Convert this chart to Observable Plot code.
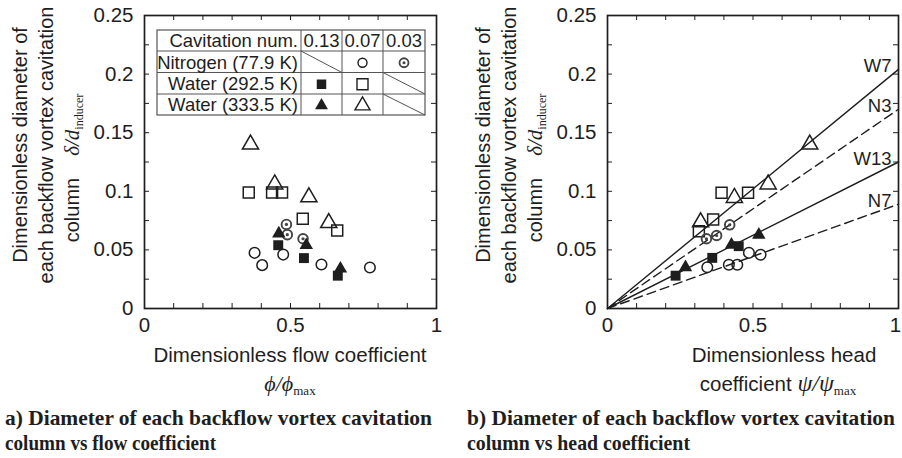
<!DOCTYPE html>
<html><head><meta charset="utf-8">
<script src="https://cdn.jsdelivr.net/npm/d3@7"></script>
<script src="https://cdn.jsdelivr.net/npm/@observablehq/plot@0.6"></script>
<style>
html,body{margin:0;padding:0;background:#fff;}
#wrap{position:relative;width:902px;height:458px;overflow:hidden;background:#fff;}
#wrap > svg{position:absolute;overflow:visible;}
#wrap svg.panel g[aria-label*="axis"] text{font-size:20.5px;font-family:'Liberation Sans', Arial, sans-serif;fill:#1e1e1e;}
</style></head><body><div id="wrap"></div>
<script>
// ---------- data ----------
// panel a: x = phi/phi_max, y = delta/d_inducer
const flowN2_007  = [[0.377,0.0475],[0.403,0.037],[0.475,0.046],[0.606,0.0375],[0.772,0.035]];
const flowN2_003  = [[0.486,0.0717],[0.489,0.063],[0.543,0.0595]];
const flowW292_013 = [[0.458,0.054],[0.546,0.043],[0.662,0.028]];
const flowW292_007 = [[0.357,0.099],[0.437,0.099],[0.471,0.099],[0.542,0.0765],[0.660,0.0665]];
const flowW333_013 = [[0.460,0.064],[0.554,0.054],[0.671,0.034]];
const flowW333_007 = [[0.363,0.140],[0.446,0.106],[0.563,0.095],[0.631,0.073]];
// panel b: x = psi/psi_max
const headN2_007  = [[0.343,0.0352],[0.417,0.0373],[0.446,0.0373],[0.486,0.0475],[0.526,0.0458]];
const headN2_003  = [[0.340,0.0595],[0.375,0.0623],[0.420,0.0714]];
const headW292_013 = [[0.234,0.028],[0.360,0.0432],[0.451,0.0532]];
const headW292_007 = [[0.392,0.0987],[0.483,0.0987],[0.363,0.076],[0.314,0.066]];
const headW333_013 = [[0.268,0.0352],[0.426,0.0543],[0.520,0.0629]];
const headW333_007 = [[0.695,0.140],[0.552,0.106],[0.436,0.0945],[0.320,0.0737]];
// fitted lines through origin
const lineNames  = ["W7","N3","W13","N7"];
const lineSlopes = [0.204,0.170,0.125,0.089];
const lineDashed = [false,true,false,true];
// ticks
const xTicks = [0,0.5,1];
const xTickLabels = ["0","0.5","1"];
const yTicks = [0,0.05,0.1,0.15,0.2,0.25];
const yTickLabels = ["0","0.05","0.1","0.15","0.2","0.25"];
const xMinor = [0.1,0.2,0.3,0.4,0.5,0.6,0.7,0.8,0.9];
const yMinor = [0.025,0.05,0.075,0.1,0.125,0.15,0.175,0.2,0.225];
// legend table
const legendHeader = ["Cavitation num.","0.13","0.07","0.03"];
const legendRows = ["Nitrogen (77.9 K)","Water (292.5 K)","Water (333.5 K)"];

// ---------- drawing ----------
const SANS = "'Liberation Sans', Arial, Helvetica, sans-serif";
const SERIF = "'Liberation Serif', 'Times New Roman', Times, serif";
const INK = "#1e1e1e";
const W = 451, H = 340, MT = 15, MB = 32;
const PH = H - MT - MB;

function symbolMarks(sets) {
  const sx = d => d[0], sy = d => d[1];
  return [
    Plot.dot(sets.w292_007, {x: sx, y: sy, symbol: "square", r: 6.2, fill: "none", stroke: INK, strokeWidth: 1.5}),
    Plot.dot(sets.w333_007, {x: sx, y: sy, symbol: "triangle", r: 6, fill: "none", stroke: INK, strokeWidth: 1.5}),
    Plot.dot(sets.n2_007, {x: sx, y: sy, symbol: "circle", r: 5.3, fill: "none", stroke: INK, strokeWidth: 1.5}),
    Plot.dot(sets.n2_003, {x: sx, y: sy, symbol: "circle", r: 4.8, fill: "none", stroke: "#444", strokeWidth: 1.9}),
    Plot.dot(sets.n2_003, {x: sx, y: sy, symbol: "circle", r: 1.6, fill: "#444", stroke: "none"}),
    Plot.dot(sets.w292_013, {x: sx, y: sy, symbol: "square", r: 5.6, fill: INK, stroke: "none"}),
    Plot.dot(sets.w333_013, {x: sx, y: sy, symbol: "triangle", r: 5, fill: INK, stroke: "none"})
  ];
}

function panel(marginLeft, marginRight, extra, sets) {
  const PW = W - marginLeft - marginRight;
  const svg = Plot.plot({
    width: W, height: H,
    marginLeft, marginRight, marginTop: MT, marginBottom: MB,
    style: {fontFamily: SANS, fontSize: "20px", color: INK, background: "transparent", overflow: "visible"},
    x: {domain: [0,1], ticks: xTicks, tickFormat: d => xTickLabels[xTicks.indexOf(d)], tickSize: 0, tickPadding: 9, label: null},
    y: {domain: [0,0.25], ticks: yTicks, tickFormat: d => yTickLabels[yTicks.indexOf(d)], tickSize: 0, tickPadding: 11, label: null},
    marks: [
      Plot.ruleX(xMinor, {x: d => d, insetTop: PH - 5, stroke: INK, strokeWidth: 1}),
      Plot.ruleX(xMinor, {x: d => d, insetBottom: PH - 5, stroke: INK, strokeWidth: 1}),
      Plot.ruleY(yMinor, {y: d => d, insetRight: PW - 5, stroke: INK, strokeWidth: 1}),
      Plot.ruleY(yMinor, {y: d => d, insetLeft: PW - 5, stroke: INK, strokeWidth: 1}),
      ...extra,
      ...symbolMarks(sets),
      Plot.frame({stroke: INK, strokeWidth: 1.7})
    ]
  });
  svg.classList.add("panel");
  return svg;
}

const wrap = document.getElementById("wrap");

const left = panel(144, 15, [], {
  n2_007: flowN2_007, n2_003: flowN2_003, w292_013: flowW292_013,
  w292_007: flowW292_007, w333_013: flowW333_013, w333_007: flowW333_007
});
left.style.left = "0px"; left.style.top = "0px";
wrap.appendChild(left);

const lineRows = lineNames.flatMap((n, i) => [
  {name: n, x: 0, y: 0, dashed: lineDashed[i]},
  {name: n, x: 1, y: lineSlopes[i], dashed: lineDashed[i]}
]);
const lineEnds = lineRows.filter(d => d.x === 1);
const right = panel(156, 4, [
  Plot.line(lineRows.filter(d => !d.dashed), {x: "x", y: "y", z: "name", stroke: INK, strokeWidth: 1.4}),
  Plot.line(lineRows.filter(d => d.dashed), {x: "x", y: "y", z: "name", stroke: INK, strokeWidth: 1.4, strokeDasharray: "9,5"}),
  Plot.text(lineEnds, {x: "x", y: "y", text: "name", textAnchor: "end", dx: -7, dy: -3, fontSize: 18.5, fill: INK})
], {
  n2_007: headN2_007, n2_003: headN2_003, w292_013: headW292_013,
  w292_007: headW292_007, w333_013: headW333_013, w333_007: headW333_007
});
right.style.left = "451px"; right.style.top = "0px";
wrap.appendChild(right);
// keep the "1" tick label of the right panel inside the page
{
  const lbls = Array.from(right.querySelectorAll('g[aria-label*="x-axis"] text')).filter(t => t.textContent === "1");
  lbls.forEach(t => t.setAttribute("dx", "-3"));
}

// ---------- overlay texts & legend table ----------
const ov = d3.select(wrap).append("svg")
  .attr("width", 902).attr("height", 458)
  .style("left", "0px").style("top", "0px").style("pointer-events", "none");

function txt(o) {
  const t = ov.append("text")
    .attr("x", o.x).attr("y", o.y)
    .attr("font-family", o.family || SANS)
    .attr("font-size", o.size || 19)
    .attr("font-weight", o.weight || "normal")
    .attr("font-style", o.style || "normal")
    .attr("text-anchor", o.anchor || "start")
    .attr("fill", INK);
  if (o.rotate) t.attr("transform", `rotate(${o.rotate},${o.x},${o.y})`);
  if (o.length) t.attr("textLength", o.length).attr("lengthAdjust", "spacingAndGlyphs");
  if (o.parts) {
    for (const p of o.parts) {
      const s = t.append("tspan").text(p.text);
      if (p.family) s.attr("font-family", p.family);
      if (p.style) s.attr("font-style", p.style);
      if (p.size) s.attr("font-size", p.size);
      if (p.dy) s.attr("dy", p.dy);
      if (p.dx) s.attr("dx", p.dx);
    }
  } else t.text(o.text);
  return t;
}

// y-axis titles (both panels)
for (const off of [0, 463]) {
  txt({x: 27 + off, y: 145, text: "Dimensionless diameter of", anchor: "middle", rotate: -90, size: 20});
  txt({x: 53 + off, y: 145, text: "each backflow vortex cavitation", anchor: "middle", rotate: -90, size: 20});
  txt({x: 79 + off, y: 168, anchor: "middle", rotate: -90, size: 20, parts: [
    {text: "column"},
    {text: "δ/d", family: SERIF, style: "italic", size: 21, dx: 22},
    {text: "inducer", family: SERIF, size: 12, dy: 4}
  ]});
}

// x-axis titles
txt({x: 290, y: 362, text: "Dimensionless flow coefficient", anchor: "middle", size: 20.5});
txt({x: 290, y: 391, anchor: "middle", size: 22, parts: [
  {text: "ϕ/ϕ", family: SERIF, style: "italic"},
  {text: "max", family: SERIF, size: 13, dy: 4}
]});
txt({x: 784, y: 362, text: "Dimensionless head", anchor: "middle", size: 20.5});
txt({x: 778, y: 391, anchor: "middle", size: 20.5, parts: [
  {text: "coefficient  "},
  {text: "ψ/ψ", family: SERIF, style: "italic", size: 24},
  {text: "max", family: SERIF, size: 13, dy: 4}
]});

// captions
txt({x: 5, y: 425, text: "a) Diameter of each backflow vortex cavitation", family: SERIF, weight: "bold", size: 21.5, length: 427});
txt({x: 5, y: 450, text: "column vs flow coefficient", family: SERIF, weight: "bold", size: 21.5, length: 211});
txt({x: 467, y: 425, text: "b) Diameter of each backflow vortex cavitation", family: SERIF, weight: "bold", size: 21.5, length: 428});
txt({x: 467, y: 450, text: "column vs head coefficient", family: SERIF, weight: "bold", size: 21.5, length: 223});

// legend table
const colX = [157, 301, 342, 383, 425];
const rowY = [30, 51, 72.5, 94, 115];
const tb = ov.append("g");
tb.append("rect").attr("x", colX[0]).attr("y", rowY[0]).attr("width", colX[4]-colX[0]).attr("height", rowY[4]-rowY[0])
  .attr("fill", "#fff").attr("stroke", "#555").attr("stroke-width", 1.2);
for (const y of rowY.slice(1, 4)) tb.append("line").attr("x1", colX[0]).attr("x2", colX[4]).attr("y1", y).attr("y2", y).attr("stroke", "#555");
for (const x of colX.slice(1, 4)) tb.append("line").attr("x1", x).attr("x2", x).attr("y1", rowY[0]).attr("y2", rowY[4]).attr("stroke", "#555");
// diagonal (empty) cells: [row, col]
for (const [r, c] of [[1,1],[2,3],[3,3]]) {
  tb.append("line").attr("x1", colX[c]).attr("y1", rowY[r]).attr("x2", colX[c+1]).attr("y2", rowY[r+1]).attr("stroke", "#555");
}
const tsize = 18.5;
txt({x: colX[1] - 3, y: rowY[1] - 4, text: legendHeader[0], anchor: "end", size: tsize});
for (let c = 1; c < 4; c++) txt({x: (colX[c] + colX[c+1]) / 2, y: rowY[1] - 4, text: legendHeader[c], anchor: "middle", size: tsize});
legendRows.forEach((name, i) => txt({x: colX[1] - 3, y: rowY[i+2] - 4, text: name, anchor: "end", size: tsize}));
function legSym(col, row, type, size, fill, stroke, sw) {
  const cx = (colX[col] + colX[col+1]) / 2, cy = (rowY[row] + rowY[row+1]) / 2 + 1;
  tb.append("path").attr("d", d3.symbol(type, size)()).attr("transform", `translate(${cx},${cy})`)
    .attr("fill", fill).attr("stroke", stroke).attr("stroke-width", sw || 1.4);
}
legSym(2, 1, d3.symbolCircle, Math.PI*4.5*4.5, "none", INK);
legSym(3, 1, d3.symbolCircle, Math.PI*4.5*4.5, "none", "#444", 1.8);
legSym(3, 1, d3.symbolCircle, Math.PI*1.5*1.5, "#444", "none");
legSym(1, 2, d3.symbolSquare, 9.5*9.5, INK, "none");
legSym(2, 2, d3.symbolSquare, 11*11, "none", INK);
legSym(1, 3, d3.symbolTriangle, Math.PI*4.8*4.8, INK, "none");
legSym(2, 3, d3.symbolTriangle, Math.PI*5.6*5.6, "none", INK);
</script></body></html>
